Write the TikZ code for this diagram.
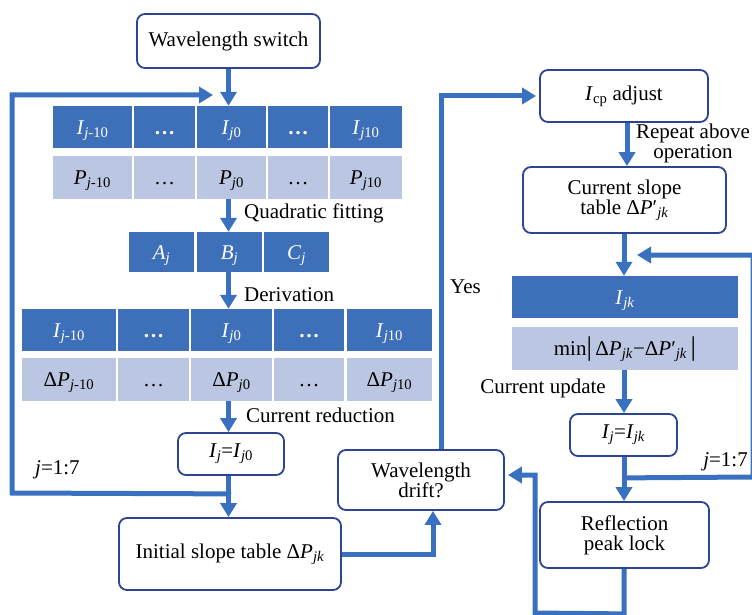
\documentclass[tikz,border=0pt]{standalone}
\usepackage{fontspec}
\setmainfont{Liberation Serif}
\usepackage{tikz}
\usetikzlibrary{arrows.meta}
\usetikzlibrary{positioning}
\usepackage{xcolor}
\definecolor{cellblue}{RGB}{61,112,184}
\definecolor{celllight}{RGB}{187,199,226}
\definecolor{boxline}{RGB}{44,68,145}
\definecolor{flowblue}{RGB}{58,112,192}
\tikzset{
  box/.style={draw=boxline, line width=1.8pt, rounded corners=8pt, fill=white, align=center, inner sep=2pt},
  dcell/.style={fill=cellblue, text=white, inner sep=0pt, minimum height=42pt, text height=16pt, text depth=1pt},
  lcell/.style={fill=celllight, inner sep=0pt, minimum height=43pt, text height=16pt, text depth=1pt},
  flow/.style={line width=5pt, draw=flowblue, -{Triangle[width=16pt,length=14pt]}},
  lbl/.style={inner sep=0pt}
}
\newcommand{\ita}[1]{\textit{#1}}
\newcommand{\low}[1]{\textsubscript{#1}}
\newcommand{\bigbar}{{\fontsize{27}{27}\selectfont|}}

\begin{document}
\begin{tikzpicture}[x=1pt,y=-1pt,font=\fontsize{21}{23}\selectfont]
\clip (0,0) rectangle (752,615);
% left column
\node[box, minimum width=183pt, minimum height=54pt] (switch) at (228.5,41) {Wavelength switch};
\foreach \i/\xa/\xb/\txt in {1/53/132/{\ita{I}\low{\ita{j}-10}}, 2/134/195/{\textbf{…}}, 3/197/266/{\ita{I}\low{\ita{j}0}}, 4/268/328/{\textbf{…}}, 5/330/402/{\ita{I}\low{\ita{j}10}}}
  \node[dcell, minimum width={(\xb-\xa)*1pt}] (ta\i) at ({(\xa+\xb)/2},127) {\txt};
\foreach \i/\xa/\xb/\txt in {1/53/132/{\ita{P}\low{\ita{j}-10}}, 2/134/195/{…}, 3/197/266/{\ita{P}\low{\ita{j}0}}, 4/268/328/{…}, 5/330/402/{\ita{P}\low{\ita{j}10}}}
  \node[lcell, minimum width={(\xb-\xa)*1pt}] (pa\i) at ({(\xa+\xb)/2},177) {\txt};
\foreach \i/\xa/\xb/\txt in {1/129/194/{\ita{A}\low{\ita{j}}}, 2/197/262/{\ita{B}\low{\ita{j}}}, 3/264/329/{\ita{C}\low{\ita{j}}}}
  \node[dcell, minimum width={(\xb-\xa)*1pt}, minimum height=40pt] (abc\i) at ({(\xa+\xb)/2},252) {\txt};
\foreach \i/\xa/\xb/\txt in {1/22/116/{\ita{I}\low{\ita{j}-10}}, 2/118/189/{\textbf{…}}, 3/191/272/{\ita{I}\low{\ita{j}0}}, 4/274/344/{\textbf{…}}, 5/347/432/{\ita{I}\low{\ita{j}10}}}
  \node[dcell, minimum width={(\xb-\xa)*1pt}] (tb\i) at ({(\xa+\xb)/2},330) {\txt};
\foreach \i/\xa/\xb/\txt in {1/22/116/{Δ\ita{P}\low{\ita{j}-10}}, 2/118/189/{…}, 3/191/272/{Δ\ita{P}\low{\ita{j}0}}, 4/274/344/{…}, 5/347/432/{Δ\ita{P}\low{\ita{j}10}}}
  \node[lcell, minimum width={(\xb-\xa)*1pt}] (pb\i) at ({(\xa+\xb)/2},379) {\txt};
\node[box, minimum width=106pt, minimum height=42pt] (ij0) at (231,454) {\ita{I}\low{\ita{j}}=\ita{I}\low{\ita{j}0}};
\node[box, minimum width=222pt, minimum height=72pt] (init) at (230,554) {Initial slope table Δ\ita{P}\low{\ita{jk}}};
\node[box, minimum width=166pt, minimum height=60pt] (drift) at (421,480) {Wavelength\\[-3pt]drift?};
% right column
\node[box, minimum width=168pt, minimum height=52pt] (icp) at (624,96) {\ita{I}\low{cp} adjust};
\node[box, minimum width=203pt, minimum height=66pt] (slope) at (624.5,200) {Current slope\\[-3pt]table Δ\ita{P}′\low{\ita{jk}}};
\node[dcell, minimum width=226pt] (tk) at (625,297) {\ita{I}\low{\ita{jk}}};
\node[lcell, minimum width=226pt] (pk) at (625,348) {min\bigbar\,Δ\ita{P}\low{\ita{jk}}−Δ\ita{P}′\low{\ita{jk}}\,\bigbar};
\node[box, minimum width=107pt, minimum height=42pt] (ijk) at (623.5,435) {\ita{I}\low{\ita{j}}=\ita{I}\low{\ita{jk}}};
\node[box, minimum width=169pt, minimum height=66pt] (refl) at (624.5,535) {Reflection\\[-3pt]peak lock};
% labels
\node[lbl, anchor=west] (lblfit) at (244,213) {Quadratic fitting};
\node[lbl, anchor=west] (lblder) at (244,295) {Derivation};
\node[lbl, anchor=west] (lblred) at (246,415) {Current reduction};
\node[lbl, anchor=west] (lblja) at (35,470) {\ita{j}=1:7};
\node[lbl, anchor=west] (lblyes) at (450,287) {Yes};
\node[lbl, align=center] (lblrep) at (693,143) {Repeat above\\[-3pt]operation};
\node[lbl, anchor=east] (lblupd) at (606,388) {Current update};
\node[lbl, anchor=east] (lbljb) at (748,462) {\ita{j}=1:7};
% connectors
\coordinate (tin) at (213,95);
\path (ij0.south) ++(0,18) coordinate (jl);
\path (ijk.south) ++(0,21) coordinate (jr);
\coordinate (fb) at (637,255);
\draw[flow] (switch.south) -- (switch.south |- ta3.north);
\draw[flow] (jl) -- (12,493) -- (12,95) -- (tin);
\draw[flow] (switch.south |- pa3.south) -- (switch.south |- abc2.north);
\draw[flow] (switch.south |- abc2.south) -- (switch.south |- tb3.north);
\draw[flow] (switch.south |- pb3.south) -- (switch.south |- ij0.north);
\draw[flow] (switch.south |- ij0.south) -- (switch.south |- init.north);
\draw[flow] (init.east) -| ([xshift=12pt]drift.south);
\draw[flow] ([xshift=20pt]drift.north) |- ([xshift=-3pt]icp.west);
\draw[flow] ([xshift=3pt]icp.south) -- ([xshift=3pt]icp.south |- slope.north);
\draw[flow] (icp.south |- slope.south) -- (icp.south |- tk.north);
\draw[flow] (jr) -- (753,477) -- (753,255) -- (fb);
\draw[flow] (icp.south |- pk.south) -- (icp.south |- ijk.north);
\draw[flow] (icp.south |- ijk.south) -- (icp.south |- refl.north);
\draw[flow] (icp.south |- refl.south) -- ++(0,45) -- (535,613) -- (535,475) -- ([xshift=3pt,yshift=5pt]drift.east);
\end{tikzpicture}
\end{document}
